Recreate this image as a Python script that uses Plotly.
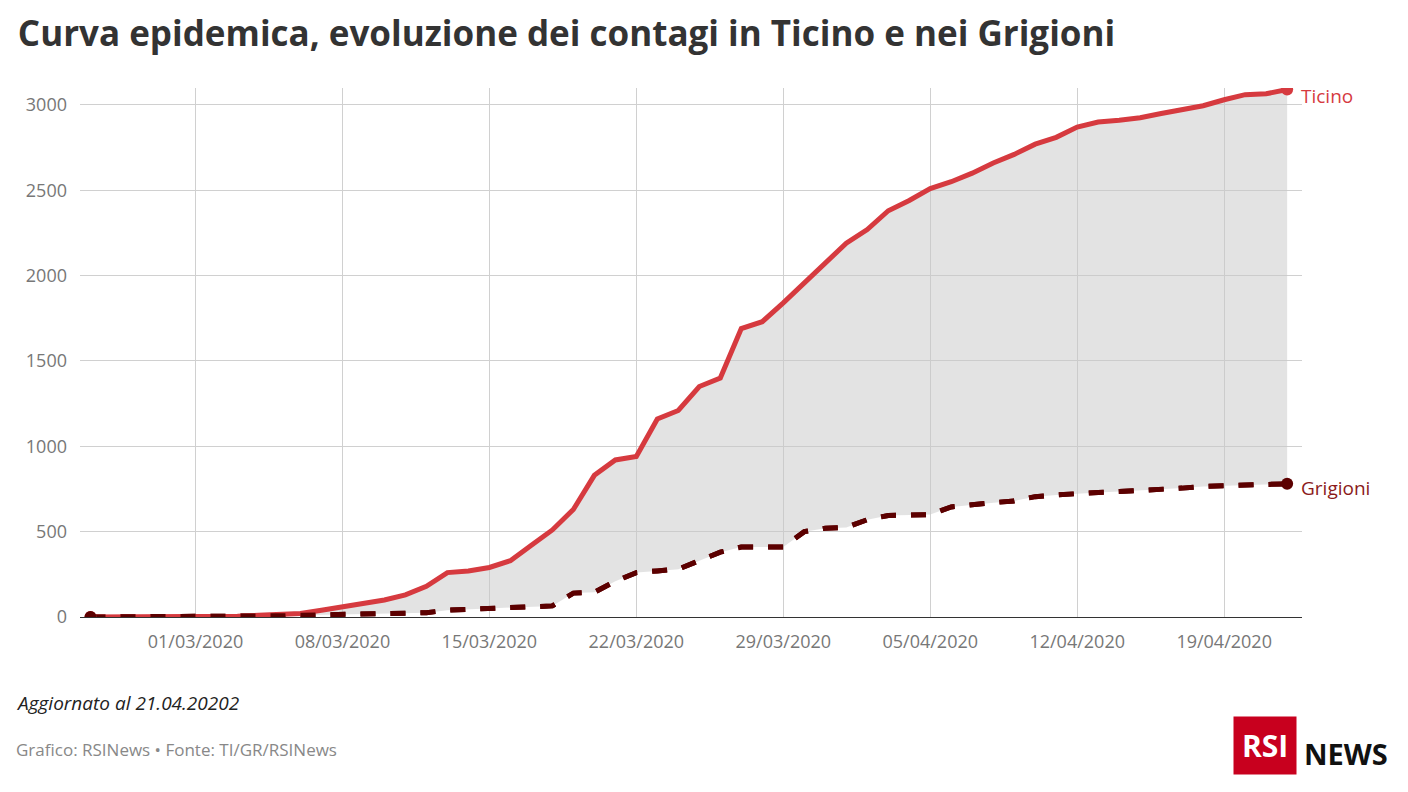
import pandas as pd
import plotly.graph_objects as go

dates = pd.date_range("2020-02-25", "2020-04-22", freq="D")
ticino = [0, 0, 1, 1, 1, 2, 3, 5, 10, 15, 20, 40, 60, 76, 100, 130, 180, 260, 270, 290,
          330, 420, 510, 630, 830, 920, 940, 1160, 1210, 1350, 1400, 1690, 1730, 1840, 1960,
          2080, 2190, 2270, 2380, 2440, 2510, 2550, 2600, 2660, 2710, 2770, 2810, 2870, 2900,
          2910, 2925, 2950, 2975, 2995, 3030, 3060, 3065, 3090]
grigioni = [0, 0, 0, 0, 1, 1, 2, 3, 5, 7, 10, 12, 15, 15, 15, 20, 25, 40, 45, 55,
            60, 65, 65, 140, 145, 210, 260, 270, 280, 330, 380, 410, 410, 410, 500,
            520, 525, 570, 595, 600, 600, 645, 660, 670, 680, 705, 715, 725, 730,
            735, 740, 745, 755, 765, 770, 775, 778, 780]
tick_dates = pd.date_range("2020-03-01", "2020-04-19", freq="7D")

RED = "#d63a3f"
DARK = "#5c0000"
ends = [0, len(dates) - 1]

fig = go.Figure()
fig.add_trace(go.Scatter(
    x=dates, y=grigioni, mode="lines",
    line=dict(color=DARK, width=5, dash="dash"), name="Grigioni"))
fig.add_trace(go.Scatter(
    x=dates, y=ticino, mode="lines", fill="tonexty",
    fillcolor="rgba(200,200,200,0.5)",
    line=dict(color=RED, width=5), name="Ticino"))
# redraw Grigioni line above the fill, then end markers
fig.add_trace(go.Scatter(
    x=dates, y=grigioni, mode="lines",
    line=dict(color=DARK, width=5, dash="dash"), hoverinfo="skip"))
fig.add_trace(go.Scatter(
    x=dates[ends], y=[ticino[i] for i in ends], mode="markers",
    marker=dict(size=12, color=RED), hoverinfo="skip"))
fig.add_trace(go.Scatter(
    x=dates[ends], y=[grigioni[i] for i in ends], mode="markers",
    marker=dict(size=12, color=DARK), hoverinfo="skip"))

fig.add_annotation(x=dates[-1], y=ticino[-1], text="Ticino", showarrow=False,
                   xanchor="left", xshift=12, yshift=-6, font=dict(color=RED, size=19))
fig.add_annotation(x=dates[-1], y=grigioni[-1], text="Grigioni", showarrow=False,
                   xanchor="left", xshift=12, yshift=-4, font=dict(color="#8b1a1a", size=19))

fig.add_annotation(xref="paper", yref="paper", x=-0.054, y=-0.19, xanchor="left",
                   text="<i>Aggiornato al 21.04.20202</i>", showarrow=False,
                   font=dict(size=19, color="#222"))
fig.add_annotation(xref="paper", yref="paper", x=-0.054, y=-0.276, xanchor="left",
                   text="Grafico: RSINews • Fonte: TI/GR/RSINews", showarrow=False,
                   font=dict(size=17, color="#888"))
# logo
fig.add_annotation(xref="paper", yref="paper", x=0.996, y=-0.298, xanchor="right",
                   text="<b>RSI</b>", showarrow=False, bgcolor="#c8001e",
                   borderpad=8, font=dict(size=30, color="white"))
fig.add_annotation(xref="paper", yref="paper", x=1.0, y=-0.298, xanchor="left",
                   text="<b>NEWS</b>", showarrow=False, font=dict(size=29, color="#111"))

fig.update_layout(
    width=1408, height=792,
    paper_bgcolor="white", plot_bgcolor="white",
    margin=dict(l=72, r=114, t=80, b=183),
    font=dict(family="Open Sans", color="#777"),
    showlegend=False,
    title=dict(text="<b>Curva epidemica, evoluzione dei contagi in Ticino e nei Grigioni</b>",
               x=0.007, y=0.983, xanchor="left", yanchor="top",
               font=dict(size=35, color="#333")),
    xaxis=dict(range=[pd.Timestamp("2020-02-24 12:00"), pd.Timestamp("2020-04-22 17:00")],
               tickvals=tick_dates, ticktext=[d.strftime("%d/%m/%Y") for d in tick_dates],
               showgrid=True, gridcolor="#d0d0d0", showline=True, linecolor="#333",
               zeroline=False, tickfont=dict(size=18, color="#777"), ticks="",
               ticklabelstandoff=8, automargin=False),
    yaxis=dict(range=[0, 3099], tickvals=[0, 500, 1000, 1500, 2000, 2500, 3000],
               showgrid=True, gridcolor="#d0d0d0", zeroline=False,
               tickfont=dict(size=18, color="#777"), ticks="", ticklabelstandoff=12,
               automargin=False),
)

fig.write_html("out.html")
